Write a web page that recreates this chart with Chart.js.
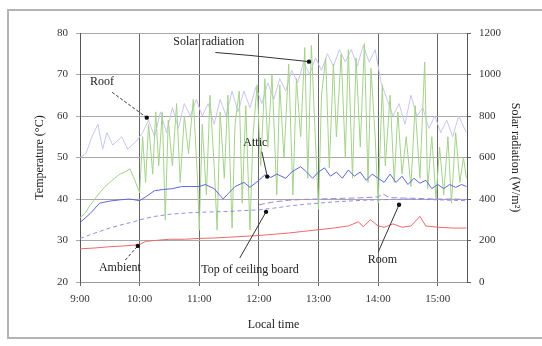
<!DOCTYPE html>
<html>
<head>
<meta charset="utf-8">
<script src="https://cdn.jsdelivr.net/npm/chart.js@4/dist/chart.umd.min.js"></script>
<style>
  html, body { margin: 0; padding: 0; background: #fff; }
  #wrap { position: relative; width: 542px; height: 346px; }
  #frame {
    position: absolute; left: 7px; top: 9px; width: 540px; height: 326px;
    border: 2px solid #b4b4b4; border-right: none; pointer-events: none;
  }
</style>
</head>
<body>
<div id="wrap">
  <canvas id="chart" width="542" height="346"></canvas>
  <div id="frame"></div>
</div>
<script>
// time in decimal hours, temperatures in degC, radiation in W/m2
const solarTime = [9.00, 9.08, 9.17, 9.25, 9.33, 9.42, 9.50, 9.58, 9.67, 9.75, 9.84, 9.92, 10.00,
  10.05, 10.10, 10.15, 10.22, 10.27, 10.32, 10.38, 10.43, 10.48, 10.55, 10.62, 10.68, 10.75, 10.82, 10.90, 10.97,
  11.00, 11.05, 11.12, 11.18, 11.25, 11.30, 11.35, 11.42, 11.48, 11.55, 11.60, 11.67, 11.72, 11.78, 11.85, 11.90, 11.97,
  12.03, 12.10, 12.15, 12.22, 12.30, 12.35, 12.42, 12.50, 12.57, 12.63, 12.70, 12.77, 12.82, 12.88, 12.93,
  13.00, 13.05, 13.12, 13.18, 13.25, 13.30, 13.38, 13.45, 13.50, 13.57, 13.63, 13.70, 13.77, 13.83, 13.88, 13.95,
  14.00, 14.07, 14.12, 14.20, 14.27, 14.33, 14.40, 14.47, 14.55, 14.62, 14.70, 14.78, 14.83, 14.90, 14.97,
  15.03, 15.10, 15.17, 15.23, 15.30, 15.37, 15.43, 15.48];
const solarValues = [310, 330, 370, 400, 430, 460, 480, 500, 520, 530, 545, 490, 430,
  700, 480, 760, 520, 820, 560, 820, 300, 780, 560, 860, 480, 800, 620, 880, 500,
  250, 760, 420, 900, 560, 250, 820, 500, 900, 260, 760, 920, 380, 850, 250, 700, 950,
  560, 980, 650, 1000, 420, 950, 600, 1050, 420, 980, 700, 1130, 500, 1140, 800,
  350, 900, 1080, 550, 1050, 700, 1100, 600, 1120, 500, 1080, 650, 1150, 480, 1030, 700,
  380, 950, 560, 900, 480, 820, 520, 700, 460, 850, 500, 1060, 450, 700, 400,
  650, 420, 700, 380, 720, 480, 600, 500];

const roofTime = [9.00, 9.10, 9.20, 9.30, 9.38, 9.45, 9.55, 9.70, 9.80, 9.95, 10.05, 10.15, 10.25, 10.35, 10.45,
  10.55, 10.65, 10.75, 10.85, 10.95, 11.05, 11.15, 11.25, 11.35, 11.45, 11.55, 11.65, 11.75, 11.85, 11.95,
  12.05, 12.15, 12.25, 12.35, 12.45, 12.55, 12.65, 12.75, 12.85, 12.95, 13.05, 13.15, 13.25, 13.35, 13.45,
  13.55, 13.65, 13.75, 13.85, 13.95, 14.05, 14.15, 14.25, 14.35, 14.45, 14.55, 14.65, 14.75, 14.85, 14.95,
  15.05, 15.15, 15.25, 15.35, 15.48];
const roofValues = [50, 51, 55, 58, 52, 56, 53, 55, 52, 54, 56, 59, 55, 61, 56,
  62, 57, 63, 60, 64, 60, 63, 58, 64, 60, 66, 61, 66, 62, 67,
  63, 68, 64, 69, 66, 71, 68, 73, 70, 74, 71, 75, 72, 76, 73,
  76, 72, 77, 73, 76, 68, 64, 60, 63, 58, 65, 60, 62, 57, 60,
  56, 59, 55, 60, 56];

const atticTime = [9.00, 9.17, 9.33, 9.50, 9.67, 9.83, 10.00, 10.10, 10.25, 10.40, 10.55, 10.70, 10.85, 11.00,
  11.10, 11.25, 11.40, 11.50, 11.60, 11.75, 11.85, 12.00, 12.10, 12.20, 12.30, 12.45, 12.55, 12.70, 12.80, 12.90,
  13.00, 13.10, 13.20, 13.30, 13.40, 13.50, 13.60, 13.70, 13.80, 13.90, 14.00, 14.10, 14.20, 14.30, 14.40,
  14.50, 14.60, 14.70, 14.80, 14.90, 15.00, 15.10, 15.20, 15.30, 15.40, 15.48];
const atticValues = [34.3, 36.5, 39.0, 39.5, 39.8, 40.0, 39.6, 40.5, 42.0, 42.3, 42.5, 43.0, 43.0, 43.0,
  43.5, 42.5, 40.0, 41.5, 43.0, 44.0, 42.8, 44.5, 45.8, 45.2, 46.0, 45.0, 46.5, 47.8, 46.5, 45.0,
  46.5, 47.5, 45.5, 46.5, 45.0, 47.0, 45.5, 46.5, 44.5, 46.0, 45.0, 44.0, 46.0, 44.0, 45.5,
  43.5, 45.0, 43.8, 44.5, 42.5, 43.5, 42.5, 43.5, 42.8, 43.5, 43.0];

const ceilingTime = [9.00, 9.25, 9.50, 9.75, 9.90, 10.00, 10.25, 10.50, 10.75, 11.00, 11.25, 11.50, 11.75,
  12.00, 12.25, 12.50, 12.75, 13.00, 13.25, 13.50, 13.75, 14.00, 14.25, 14.50, 14.75, 15.00, 15.25, 15.48];
const ceilingValues = [30.5, 31.8, 33.0, 34.0, 34.5, 35.0, 35.8, 36.3, 36.6, 36.8, 36.9, 37.0, 37.2,
  37.4, 37.8, 38.3, 38.7, 39.0, 39.3, 39.5, 39.7, 39.8, 39.9, 40.0, 39.9, 39.8, 39.7, 39.6];

const roomTime = [12.00, 12.25, 12.50, 12.75, 13.00, 13.25, 13.50, 13.75, 14.00, 14.08, 14.15, 14.25,
  14.50, 14.75, 15.00, 15.25, 15.48];
const roomValues = [38.6, 39.3, 39.7, 39.9, 40.0, 40.1, 40.2, 40.3, 40.5, 41.3, 40.6, 40.3,
  40.2, 40.1, 40.0, 40.0, 39.9];

const ambientTime = [9.00, 9.25, 9.50, 9.75, 10.00, 10.10, 10.25, 10.50, 10.75, 11.00, 11.25, 11.50, 11.75,
  12.00, 12.25, 12.50, 12.75, 13.00, 13.25, 13.50, 13.67, 13.75, 13.87, 14.00, 14.10, 14.25, 14.40,
  14.55, 14.70, 14.80, 15.00, 15.25, 15.48];
const ambientValues = [28.0, 28.2, 28.5, 28.7, 29.0, 29.8, 30.0, 30.3, 30.3, 30.5, 30.6, 30.8, 31.0,
  31.2, 31.5, 31.8, 32.2, 32.6, 33.0, 33.5, 34.5, 33.3, 35.0, 33.5, 33.2, 34.0, 33.2,
  33.5, 35.8, 33.5, 33.2, 33.0, 33.0];

const hourTicks = [9, 10, 11, 12, 13, 14, 15];

function pairs(xs, ys) {
  return xs.map((x, i) => ({ x: x, y: ys[i] }));
}

// labels with pointer lines, given in data units (hours, degC)
const notes = [
  { text: 'Solar radiation', at: [11.16, 77.8], line: [[11.27, 75.3], [11.85, 74.6], [12.84, 73.1]] },
  { text: 'Roof', at: [9.37, 68.3], line: [[9.54, 65.7], [10.12, 59.6]], dash: true },
  { text: 'Attic', at: [11.94, 53.6], line: [[12.05, 51.4], [12.14, 45.4]] },
  { text: 'Ambient', at: [9.67, 23.4], line: [[9.76, 25.3], [9.97, 28.7]], dash: true },
  { text: 'Top of ceiling board', at: [11.85, 22.9], line: [[11.68, 25.8], [12.12, 36.9]] },
  { text: 'Room', at: [14.07, 25.3], line: [[14.0, 27.2], [14.35, 38.6]] }
];

const serif = 'Liberation Serif';

const notesPlugin = {
  id: 'notes',
  afterDatasetsDraw(chart) {
    const ctx = chart.ctx;
    const sx = chart.scales.x, sy = chart.scales.y;
    ctx.save();
    ctx.font = '12px "' + serif + '"';
    ctx.fillStyle = '#222';
    ctx.textAlign = 'center';
    ctx.textBaseline = 'middle';
    notes.forEach(n => {
      ctx.fillText(n.text, sx.getPixelForValue(n.at[0]), sy.getPixelForValue(n.at[1]));
      const pts = n.line.map(p => [sx.getPixelForValue(p[0]), sy.getPixelForValue(p[1])]);
      ctx.strokeStyle = '#333';
      ctx.lineWidth = 1;
      ctx.setLineDash(n.dash ? [3, 2] : []);
      ctx.beginPath();
      pts.forEach((p, i) => i ? ctx.lineTo(p[0], p[1]) : ctx.moveTo(p[0], p[1]));
      ctx.stroke();
      const end = pts[pts.length - 1];
      ctx.setLineDash([]);
      ctx.beginPath();
      ctx.arc(end[0], end[1], 2.2, 0, Math.PI * 2);
      ctx.fillStyle = '#111';
      ctx.fill();
      ctx.fillStyle = '#222';
    });
    ctx.restore();
  }
};

const tickFont = { family: serif, size: 11 };
const titleFont = { family: serif, size: 12 };

new Chart(document.getElementById('chart'), {
  type: 'line',
  data: {
    datasets: [
      { label: 'Ambient', data: pairs(ambientTime, ambientValues), borderColor: '#ec6a6a', yAxisID: 'y' },
      { label: 'Room', data: pairs(roomTime, roomValues), borderColor: '#a585dc', borderDash: [6, 3], yAxisID: 'y' },
      { label: 'Top of ceiling board', data: pairs(ceilingTime, ceilingValues), borderColor: '#8e8ee8', borderDash: [4, 3], yAxisID: 'y' },
      { label: 'Attic', data: pairs(atticTime, atticValues), borderColor: '#5a68dc', yAxisID: 'y' },
      { label: 'Solar radiation', data: pairs(solarTime, solarValues), borderColor: '#a4d28a', yAxisID: 'y1' },
      { label: 'Roof', data: pairs(roofTime, roofValues), borderColor: '#c6c6f2', yAxisID: 'y' }
    ]
  },
  options: {
    responsive: false,
    animation: false,
    devicePixelRatio: 1,
    layout: { padding: { top: 33, left: 0, right: 0, bottom: 0 } },
    elements: {
      point: { radius: 0 },
      line: { borderWidth: 1, tension: 0 }
    },
    plugins: { legend: { display: false }, tooltip: { enabled: false } },
    scales: {
      x: {
        type: 'linear',
        min: 9,
        max: 15.49,
        afterBuildTicks: s => { s.ticks = hourTicks.map(v => ({ value: v })); },
        afterFit: s => { s.height = 64; },
        ticks: {
          font: tickFont, color: '#333', padding: 7, maxRotation: 0,
          callback: v => v + ':00'
        },
        grid: { color: '#666', tickLength: 4 },
        border: { color: '#999' },
        title: { display: true, text: 'Local time', font: titleFont, color: '#222', padding: { top: 0, bottom: 14 } }
      },
      y: {
        position: 'left',
        min: 20,
        max: 80,
        afterFit: s => { s.width = 80; },
        ticks: { stepSize: 10, font: tickFont, color: '#333', padding: 8 },
        grid: { color: '#a8a8a8', tickLength: 4 },
        border: { color: '#555' },
        title: { display: true, text: 'Temperature (°C)', font: titleFont, color: '#222', padding: { top: 33, bottom: 0 } }
      },
      y1: {
        position: 'right',
        min: 0,
        max: 1200,
        afterFit: s => { s.width = 75; },
        ticks: { stepSize: 200, font: tickFont, color: '#333', padding: 8, callback: v => String(v) },
        grid: { drawOnChartArea: false, tickLength: 4, color: '#666' },
        border: { color: '#555' },
        title: { display: true, text: 'Solar radiation (W/m²)', font: titleFont, color: '#222', padding: { top: 20, bottom: 0 } }
      }
    }
  },
  plugins: [notesPlugin]
});
</script>
</body>
</html>
